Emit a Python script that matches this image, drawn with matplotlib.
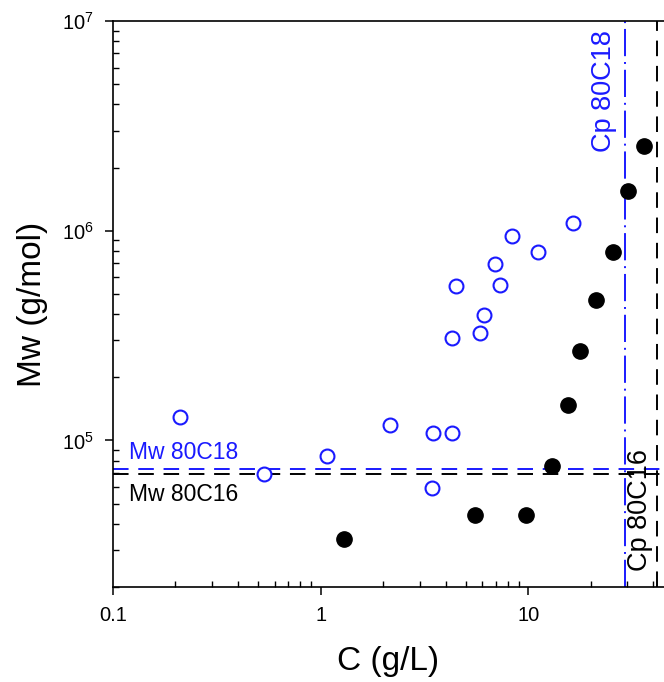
import numpy as np
import matplotlib
matplotlib.use("Agg")
import matplotlib.pyplot as plt
from matplotlib.ticker import LogLocator, NullFormatter, FixedLocator

plt.rcParams['font.family'] = ['Liberation Sans', 'DejaVu Sans']
plt.rcParams['mathtext.fontset'] = 'custom'
plt.rcParams['mathtext.rm'] = 'Liberation Sans'
plt.rcParams['mathtext.it'] = 'Liberation Sans'

BLUE = '#1a1aff'

# 80C18 (open circles)
c18 = [0.211, 0.536, 1.07, 2.15, 3.44, 3.49, 4.28, 4.30, 4.48, 5.89, 6.15, 6.90, 7.35, 8.34, 11.2, 16.4]
mw18 = [1.29e5, 6.9e4, 8.4e4, 1.19e5, 5.95e4, 1.08e5, 1.08e5, 3.08e5, 5.46e5, 3.26e5, 3.96e5, 6.95e5, 5.49e5, 9.44e5, 7.94e5, 1.09e6]

# 80C16 (filled circles)
c16 = [1.29, 5.55, 9.77, 13.0, 15.6, 17.8, 21.1, 25.5, 30.3, 36.1]
mw16 = [3.4e4, 4.42e4, 4.42e4, 7.59e4, 1.48e5, 2.67e5, 4.66e5, 7.94e5, 1.54e6, 2.54e6]

# reference lines
mw_ref18, mw_ref16 = 7.3e4, 6.9e4
cp_ref18, cp_ref16 = 29.2, 41.9

xticks = [0.1, 1, 10]
xticklabels = ['0.1', '1', '10']
yticks = [1e5, 1e6, 1e7]
yticklabels = [r'$\mathregular{10^{5}}$', r'$\mathregular{10^{6}}$', r'$\mathregular{10^{7}}$']

fig = plt.figure(figsize=(6.64, 6.82), dpi=100)
ax = fig.add_axes([113/664, 95/682, 1 - 113/664, 566/682])
ax.set_xscale('log')
ax.set_yscale('log')
ax.set_xlim(0.1, 45.1)
ax.set_ylim(2e4, 1e7)

# reference lines
ax.axhline(mw_ref16, color='black', lw=1.4, dashes=(8, 5), zorder=2)
ax.axhline(mw_ref18, color=BLUE, lw=1.4, dashes=(8, 5), zorder=2)
ax.axvline(cp_ref18, color=BLUE, lw=1.4, dashes=(14, 3, 1, 3), zorder=2)
ax.axvline(cp_ref16, color='black', lw=1.4, dashes=(8, 5), zorder=2)

ax.plot(c18, mw18, 'o', ls='none', mfc='white', mec=BLUE, mew=1.5, ms=10, zorder=3)
ax.plot(c16, mw16, 'o', ls='none', mfc='black', mec='black', ms=11, zorder=3)

# annotations
ax.text(0.12, 8.15e4, 'Mw 80C18', color=BLUE, fontsize=16.5, va='baseline', ha='left')
ax.text(0.12, 5.15e4, 'Mw 80C16', color='black', fontsize=16.5, va='baseline', ha='left')
ax.text(23.2, 2.37e6, 'Cp 80C18', color=BLUE, fontsize=19.5, rotation=90, ha='center', va='bottom')
ax.text(34.6, 2.38e4, 'Cp 80C16', color='black', fontsize=19.5, rotation=90, ha='center', va='bottom')

# ticks
ax.xaxis.set_major_locator(FixedLocator(xticks))
ax.set_xticklabels(xticklabels)
ax.yaxis.set_major_locator(FixedLocator(yticks))
ax.set_yticklabels(yticklabels)
ax.xaxis.set_minor_locator(LogLocator(base=10, subs=np.arange(2, 10)))
ax.yaxis.set_minor_locator(LogLocator(base=10, subs=np.arange(2, 10)))
ax.xaxis.set_minor_formatter(NullFormatter())
ax.yaxis.set_minor_formatter(NullFormatter())
ax.tick_params(which='major', direction='out', length=6, width=1.1, labelsize=14.5, pad=8)
ax.tick_params(which='minor', direction='in', length=4, width=1.0)
ax.tick_params(top=False, right=False, which='both')

ax.spines['right'].set_visible(False)
for s in ['left', 'bottom', 'top']:
    ax.spines[s].set_linewidth(1.2)

ax.set_xlabel('C (g/L)', fontsize=24)
ax.set_ylabel('Mw (g/mol)', fontsize=24)
ax.xaxis.set_label_coords(0.5, -0.105)
ax.yaxis.set_label_coords(-0.118, 0.5)

fig.savefig('out.png', dpi=100)
